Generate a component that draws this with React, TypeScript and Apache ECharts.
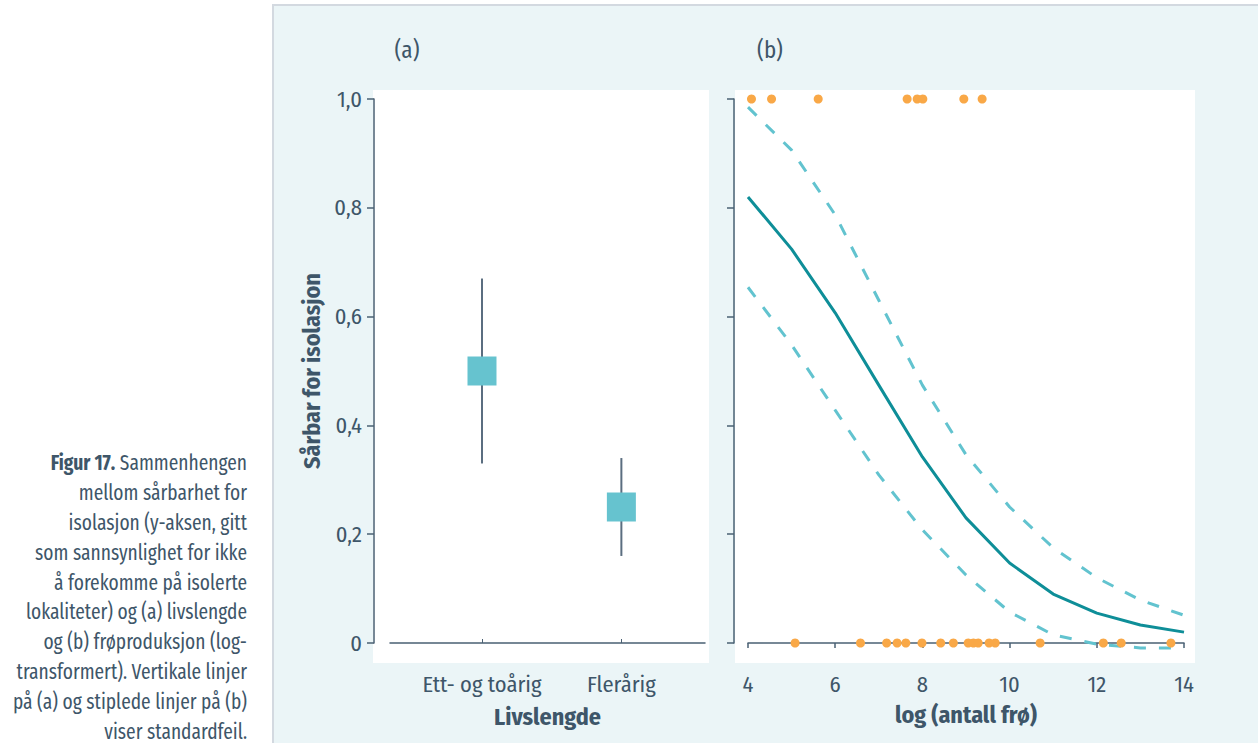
import React, { useEffect, useRef } from "react";
import * as echarts from "echarts";

// ---- Data ----
const categories = ["Ett- og toårig", "Flerårig"];
const catPos = [1, 2];
const meanVals = [0.5, 0.25];
const seLow = [0.33, 0.16];
const seHigh = [0.67, 0.34];

const seedsPresent = [4.08, 4.54, 5.61, 7.65, 7.88, 8.01, 8.95, 9.37];
const seedsAbsent = [5.08, 6.58, 7.18, 7.42, 7.62, 7.99, 8.42, 8.71, 9.05, 9.17, 9.28, 9.53, 9.67, 10.7, 12.15, 12.56, 13.7];

const fitX = [4, 5, 6, 7, 8, 9, 10, 11, 12, 13, 14];
const fitY = [0.82, 0.724, 0.607, 0.474, 0.342, 0.23, 0.147, 0.09, 0.055, 0.033, 0.02];
const upperY = [0.985, 0.906, 0.787, 0.63, 0.474, 0.346, 0.25, 0.175, 0.12, 0.079, 0.051];
const lowerY = [0.654, 0.548, 0.428, 0.309, 0.208, 0.125, 0.057, 0.015, -0.002, -0.009, -0.009];

const yTicks = [0, 0.2, 0.4, 0.6, 0.8, 1.0];
const xTicksB = [4, 6, 8, 10, 12, 14];

const captionLines = [
  "Sammenhengen",
  "mellom sårbarhet for",
  "isolasjon (y-aksen, gitt",
  "som sannsynlighet for ikke",
  "å forekomme på isolerte",
  "lokaliteter) og (a) livslengde",
  "og (b) frøproduksjon (log-",
  "transformert). Vertikale linjer",
  "på (a) og stiplede linjer på (b)",
  "viser standardfeil.",
];

// ---- Styles ----
const FONT = "'Fira Sans Condensed', 'Roboto Condensed', 'DejaVu Sans Condensed', sans-serif";
const TEXT = "#3e5669";
const AXIS = "#4a6073";
const PANEL_BG = "#ebf5f7";
const BOX = "#66c3cf";
const ERR = "#5b6e80";
const DOT = "#f9a847";
const FIT = "#0e8e98";
const CI = "#62c3cf";
const LABEL_SIZE = 22.5;
const NAME_SIZE = 24;

const yFmt = (v: number) => (v === 0 ? "0" : v.toFixed(1).replace(".", ","));

function buildOption(): any {
  const caption = captionLines.map((t, i) => ({
    type: "text",
    x: 247,
    y: 463 + i * 29.8,
    z: 5,
    scaleX: 0.88,
    style: {
      text: i === 0 ? "{b|Figur 17.} " + t : t,
      textAlign: "right",
      textVerticalAlign: "middle",
      align: "right",
      verticalAlign: "middle",
      fontFamily: FONT,
      fontSize: 22,
      fill: TEXT,
      rich: i === 0 ? { b: { fontFamily: FONT, fontSize: 22, fontWeight: "bold", fill: TEXT, color: TEXT } } : undefined,
    },
  }));

  const panelTitle = (t: string, x: number) => ({
    type: "text", x, y: 50, z: 5,
    style: { text: t, textAlign: "center", textVerticalAlign: "middle", align: "center", verticalAlign: "middle", fontFamily: FONT, fontSize: 23, fill: TEXT },
  });

  return {
    animation: false,
    backgroundColor: "#ffffff",
    textStyle: { fontFamily: FONT, color: TEXT },
    graphic: [
      {
        type: "rect",
        z: -10,
        shape: { x: 273, y: 5, width: 990, height: 745 },
        style: { fill: PANEL_BG, stroke: "#d3d9e0", lineWidth: 2 },
      },
      { type: "rect", z: -9, shape: { x: 373, y: 90, width: 336, height: 573 }, style: { fill: "#ffffff" } },
      { type: "rect", z: -9, shape: { x: 735, y: 90, width: 460, height: 573 }, style: { fill: "#ffffff" } },
      panelTitle("(a)", 407),
      panelTitle("(b)", 770),
      ...caption,
    ],
    grid: [
      { left: 390, top: 99, width: 315, height: 544 },
      { left: 748, top: 99, width: 436, height: 544 },
    ],
    xAxis: [
      {
        gridIndex: 0,
        type: "value",
        min: 0.34,
        max: 2.6,
        offset: 21,
        axisLine: { show: true, lineStyle: { color: AXIS, width: 1.5 } },
        axisTick: { show: true, inside: true, length: 4, customValues: catPos, lineStyle: { color: AXIS, width: 1 } },
        axisLabel: {
          customValues: catPos,
          formatter: (v: number) => categories[Math.round(v) - 1] ?? "",
          fontFamily: FONT,
          fontSize: LABEL_SIZE,
          color: TEXT,
          margin: 9,
        },
        splitLine: { show: false },
        name: "Livslengde",
        nameLocation: "middle",
        nameGap: 41,
        nameTextStyle: { fontFamily: FONT, fontSize: NAME_SIZE, fontWeight: "bold", color: TEXT },
      },
      {
        gridIndex: 1,
        type: "value",
        min: 4,
        max: 14,
        interval: 2,
        offset: 22,
        axisLine: { show: true, lineStyle: { color: AXIS, width: 1.5 } },
        axisTick: { show: true, inside: false, length: 5, lineStyle: { color: AXIS, width: 1.5 } },
        axisLabel: {
          customValues: xTicksB,
          fontFamily: FONT,
          fontSize: LABEL_SIZE,
          color: TEXT,
          margin: 8,
        },
        splitLine: { show: false },
        name: "log (antall frø)",
        nameLocation: "middle",
        nameGap: 38,
        nameTextStyle: { fontFamily: FONT, fontSize: NAME_SIZE, fontWeight: "bold", color: TEXT },
      },
    ],
    yAxis: [
      {
        gridIndex: 0,
        type: "value",
        min: 0,
        max: 1,
        interval: 0.2,
        offset: 16,
        axisLine: { show: true, lineStyle: { color: AXIS, width: 1.5 } },
        axisTick: { show: true, inside: false, length: 7, lineStyle: { color: AXIS, width: 1.5 } },
        axisLabel: { customValues: yTicks, formatter: yFmt, fontFamily: FONT, fontSize: LABEL_SIZE, color: TEXT, margin: 12 },
        splitLine: { show: false },
        name: "Sårbar for isolasjon",
        nameLocation: "middle",
        nameRotate: 90,
        nameGap: 50,
        nameTextStyle: { fontFamily: FONT, fontSize: NAME_SIZE, fontWeight: "bold", color: TEXT },
      },
      {
        gridIndex: 1,
        type: "value",
        min: 0,
        max: 1,
        interval: 0.2,
        offset: 14,
        axisLine: { show: true, lineStyle: { color: AXIS, width: 1.5 } },
        axisTick: { show: true, inside: false, length: 7, lineStyle: { color: AXIS, width: 1.5 } },
        axisLabel: { show: false },
        splitLine: { show: false },
      },
    ],
    series: [
      {
        type: "custom",
        xAxisIndex: 0,
        yAxisIndex: 0,
        z: 2,
        data: catPos.map((x, i) => [x, seLow[i], seHigh[i]]),
        encode: { x: 0, y: [1, 2] },
        renderItem: (params: any, api: any) => {
          const p1 = api.coord([api.value(0), api.value(1)]);
          const p2 = api.coord([api.value(0), api.value(2)]);
          return {
            type: "line",
            shape: { x1: p1[0], y1: p1[1], x2: p2[0], y2: p2[1] },
            style: { stroke: ERR, lineWidth: 2 },
          };
        },
      },
      {
        type: "scatter",
        xAxisIndex: 0,
        yAxisIndex: 0,
        z: 3,
        symbol: "rect",
        symbolSize: 29,
        itemStyle: { color: BOX, opacity: 1 },
        data: catPos.map((x, i) => [x, meanVals[i]]),
      },
      {
        type: "line",
        xAxisIndex: 1,
        yAxisIndex: 1,
        z: 2,
        clip: false,
        showSymbol: false,
        symbol: "none",
        lineStyle: { color: CI, width: 3, type: [12, 13] },
        data: fitX.map((x, i) => [x, upperY[i]]),
      },
      {
        type: "line",
        xAxisIndex: 1,
        yAxisIndex: 1,
        z: 2,
        clip: false,
        showSymbol: false,
        symbol: "none",
        lineStyle: { color: CI, width: 3, type: [12, 13] },
        data: fitX.map((x, i) => [x, lowerY[i]]),
      },
      {
        type: "line",
        xAxisIndex: 1,
        yAxisIndex: 1,
        z: 2,
        clip: false,
        showSymbol: false,
        symbol: "none",
        lineStyle: { color: FIT, width: 3 },
        data: fitX.map((x, i) => [x, fitY[i]]),
      },
      {
        type: "scatter",
        xAxisIndex: 1,
        yAxisIndex: 1,
        z: 4,
        clip: false,
        symbolSize: 9,
        itemStyle: { color: DOT, opacity: 1 },
        data: seedsPresent.map((x) => [x, 1]),
      },
      {
        type: "scatter",
        xAxisIndex: 1,
        yAxisIndex: 1,
        z: 4,
        clip: false,
        symbolSize: 9,
        itemStyle: { color: DOT, opacity: 1 },
        data: seedsAbsent.map((x) => [x, 0]),
      },
    ],
  };
}

export default function App() {
  const ref = useRef<HTMLDivElement>(null);
  useEffect(() => {
    if (!ref.current) return;
    const chart = echarts.init(ref.current, null, { renderer: "svg" });
    chart.setOption(buildOption());
    return () => chart.dispose();
  }, []);
  return <div ref={ref} style={{ position: "fixed", left: 0, top: 0, width: 1258, height: 743 }} />;
}
